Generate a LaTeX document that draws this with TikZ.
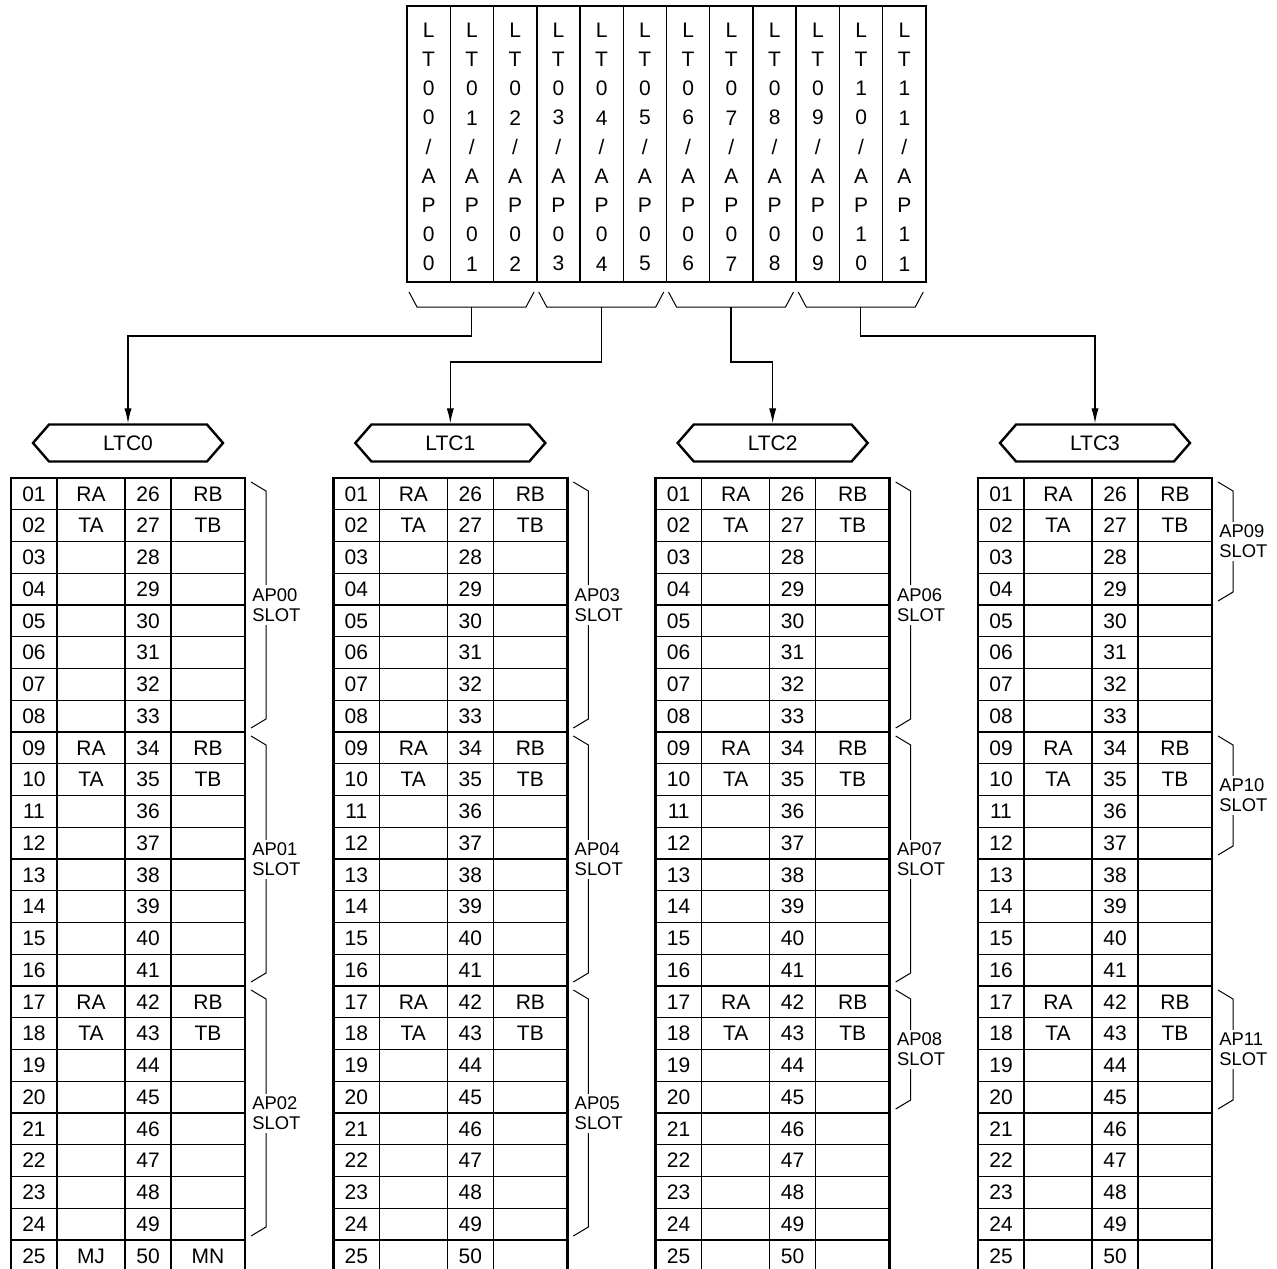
\documentclass[tikz,border=0pt]{standalone}
\usepackage{fontspec}
\setmainfont{Liberation Sans}
\usetikzlibrary{arrows.meta,shapes.symbols}

\begin{document}
\begin{tikzpicture}[x=0.5pt,y=-0.5pt,>={Latex[length=7.5pt,width=3.6pt]},
  cell/.style={inner sep=0pt,font=\fontsize{10.5}{12}\selectfont},
  ltcol/.style={inner sep=0pt,align=center,font=\fontsize{10.5}{14.6}\selectfont},
  grid/.style={line width=0.6pt},
  frame/.style={line width=1.4pt},
  ltcbox/.style={signal,signal to=west and east,signal pointer angle=98,draw,
    line width=1.2pt,minimum width=95pt,minimum height=18.5pt,inner sep=0pt,
    font=\fontsize{10.5}{12}\selectfont},
  brack/.style={line width=0.5pt},
  conn/.style={line width=0.6pt},
  slot/.style={anchor=west,align=left,fill=white,inner xsep=0.5pt,inner ysep=1.5pt,
    font=\fontsize{9.2}{10}\selectfont}]
\useasboundingbox (0,0) rectangle (1277,1268);
\clip (0,0) rectangle (1277,1268);

% LT/AP columns
\foreach \i in {1,2,4,5,7,8,10,11} \draw[grid] (407+43.25*\i,6) -- (407+43.25*\i,282);
\foreach \i in {3,6,9} \draw[grid,line width=0.9pt] (407+43.25*\i,6) -- (407+43.25*\i,282);
\draw[frame] (407,6) rectangle (926,282);
\foreach \i in {0,...,11}{
  \pgfmathtruncatemacro\da{\i/10}
  \pgfmathtruncatemacro\db{mod(\i,10)}
  \node[ltcol] (lt\i) at (428.6+43.25*\i,147) {L\\T\\\da\\\db\\/\\A\\P\\\da\\\db};
}
\foreach \g in {0,...,3}{
  \pgfmathsetmacro\gl{407+129.75*\g}
  \draw[brack] (\gl+2,292) -- (\gl+10,307) -- (\gl+119,307) -- (\gl+127,292);
  \coordinate (br\g) at (\gl+64.5,307);
}

% LTC tables
\foreach \t in {0,...,3}{
  \pgfmathsetmacro\L{11+322.33*\t}
  \pgfmathsetmacro\R{\L+234}
  \foreach \r in {1,...,24} \draw[grid] (\L,478+31.75*\r) -- (\R,478+31.75*\r);
  \foreach \c in {46,114,160} \draw[grid] (\L+\c,478) -- (\L+\c,1272);
  \draw[frame] (\L,478) rectangle (\R,1271.75);
  \foreach \r in {1,...,25}{
    \pgfmathsetmacro\y{478+31.75*\r-15.875}
    \pgfmathtruncatemacro\s{\r+25}
    \node[cell] (t\t-\r-a) at (\L+23,\y) {\ifnum\r<10 0\fi\r};
    \node[cell] (t\t-\r-c) at (\L+137,\y) {\s};
  }
  \foreach \r/\p/\q in {1/RA/RB,2/TA/TB,9/RA/RB,10/TA/TB,17/RA/RB,18/TA/TB}{
    \pgfmathsetmacro\y{478+31.75*\r-15.875}
    \node[cell] (t\t-\r-b) at (\L+80,\y) {\p};
    \node[cell] (t\t-\r-d) at (\L+197,\y) {\q};
  }
  \node[ltcbox] (ltc\t) at (\L+117,443) {LTC\t};
}
\node[cell] (t0-25-b) at (91,1255.9) {MJ};
\node[cell] (t0-25-d) at (208,1255.9) {MN};

% AP slots
\foreach \t/\a/\b/\ap in {0/1/8/00,0/9/16/01,0/17/24/02,1/1/8/03,1/9/16/04,1/17/24/05,
    2/1/8/06,2/9/16/07,2/17/20/08,3/1/4/09,3/9/12/10,3/17/20/11}{
  \pgfmathsetmacro\xa{11+322.33*\t+240}
  \pgfmathsetmacro\ya{478+31.75*(\a-1)+4}
  \pgfmathsetmacro\yb{478+31.75*\b-4}
  \draw[brack] (\xa,\ya) -- (\xa+15,\ya+9) -- (\xa+15,\yb-9) -- (\xa,\yb);
  \node[slot] (ap\ap) at (\xa,{(\ya+\yb)/2}) {AP\ap\\SLOT};
}

\draw[conn,->] (br0) -- ++(0,29) -| (ltc0.north);
\draw[conn,->] (br1) -- ++(0,55) -| (ltc1.north);
\draw[conn,->] (br2) -- ++(0,55) -| (ltc2.north);
\draw[conn,->] (br3) -- ++(0,29) -| (ltc3.north);
\end{tikzpicture}
\end{document}
